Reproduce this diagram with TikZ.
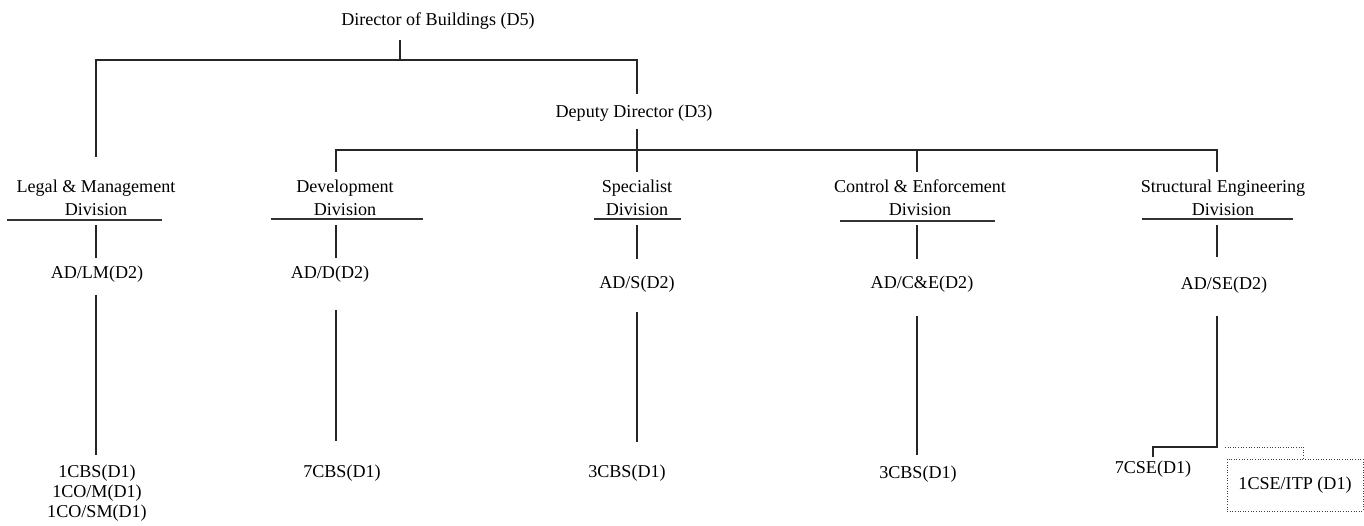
\documentclass[tikz,border=0pt]{standalone}
\usepackage{fontspec}
\setmainfont{Liberation Serif}

\begin{document}
\begin{tikzpicture}[
  x=0.02cm, y=-0.02cm,
  txt/.style={inner sep=0pt, font=\fontsize{10.3}{13}\selectfont},
  div/.style={txt, align=center},
  staff/.style={txt, align=center, font=\fontsize{10.3}{11.3}\selectfont},
  conn/.style={line width=0.8pt, black!85},
  uline/.style={line width=0.6pt, black!80},
  dotline/.style={line width=0.5pt, densely dotted, draw=black!75}
]
\useasboundingbox (0,0) rectangle (1364,526);

% Columns and bends
\coordinate (cLM) at (96,0);
\coordinate (cD)  at (336,0);
\coordinate (cS)  at (637,0);
\coordinate (cCE) at (917,0);
\coordinate (cSE) at (1217,0);
\coordinate (j5)  at (400,60);
\coordinate (bus) at (637,150);
\coordinate (kSE) at (1217,447);

% Top
\node[txt] (d5) at (438,21) {Director of Buildings (D5)};
\node[txt] (d3) at (634,113) {Deputy Director (D3)};

% Divisions
\node[div] (lm)   at (96,198)   {Legal \& Management\\Division};
\node[div] (dev)  at (345,198)  {Development\\Division};
\node[div] (spec) at (637,198)  {Specialist\\Division};
\node[div] (ce)   at (920,198)  {Control \& Enforcement\\Division};
\node[div] (se)   at (1223,198) {Structural Engineering\\Division};

\draw[uline] (7,220) -- (162,220);
\draw[uline] (271,219) -- (423,219);
\draw[uline] (594,219) -- (681,219);
\draw[uline] (840,221) -- (995,221);
\draw[uline] (1142,219) -- (1293,219);

% Assistant directors
\node[txt] (adlm) at (97,274)   {AD/LM(D2)};
\node[txt] (add)  at (330,274)  {AD/D(D2)};
\node[txt] (ads)  at (637,284)  {AD/S(D2)};
\node[txt] (adce) at (922,284)  {AD/C\&E(D2)};
\node[txt] (adse) at (1224,285) {AD/SE(D2)};

% Staff
\node[staff] (stlm) at (97,493) {1CBS(D1)\\1CO/M(D1)\\1CO/SM(D1)};
\node[txt] (stdev)  at (342,473)  {7CBS(D1)};
\node[txt] (stspec) at (627,473)  {3CBS(D1)};
\node[txt] (stce)   at (918,474)  {3CBS(D1)};
\node[txt] (stse)   at (1153,469) {7CSE(D1)};
\node[txt, draw, dotline, minimum width=2.72cm, minimum height=1.04cm] (itp) at (1295,485) {1CSE/ITP (D1)};

% Connectors
\draw[conn, shorten <=5.7pt] (d5.south -| j5) -- (j5);
\draw[conn, shorten <=13pt, shorten >=6.2pt] (lm.north) |- (j5) -| (d3.north -| cS);
\draw[conn, shorten <=4pt, shorten >=4.5pt] (d3.south -| cS) -- (spec.north -| cS);
\draw[conn, shorten <=4.5pt, shorten >=4.5pt] (dev.north -| cD) |- (bus) -| (se.north -| cSE);
\draw[conn, shorten >=4.5pt] (bus -| cCE) -- (ce.north -| cCE);

\draw[conn, shorten <=5pt, shorten >=4pt] (lm.south -| cLM) -- (adlm.north -| cLM);
\draw[conn, shorten <=5pt, shorten >=4pt] (dev.south -| cD) -- (add.north -| cD);
\draw[conn, shorten <=5pt, shorten >=9.6pt] (spec.south -| cS) -- (ads.north -| cS);
\draw[conn, shorten <=5pt, shorten >=9.6pt] (ce.south -| cCE) -- (adce.north -| cCE);
\draw[conn, shorten <=5pt, shorten >=10.8pt] (se.south -| cSE) -- (adse.north -| cSE);

\draw[conn, shorten <=6.8pt, shorten >=5.4pt] (adlm.south -| cLM) -- (stlm.north -| cLM);
\draw[conn, shorten <=15.9pt, shorten >=13.3pt] (add.south -| cD) -- (stdev.north -| cD);
\draw[conn, shorten <=10.8pt, shorten >=12.8pt] (ads.south -| cS) -- (stspec.north -| cS);
\draw[conn, shorten <=13.6pt, shorten >=6.2pt] (adce.south -| cCE) -- (stce.north -| cCE);
\draw[conn, shorten <=12.5pt, shorten >=1.7pt] (adse.south -| kSE) -- (kSE) -| (stse.north);
\draw[dotline] ([xshift=4.5pt]kSE) -| ([xshift=5pt]itp.north);
\end{tikzpicture}
\end{document}
